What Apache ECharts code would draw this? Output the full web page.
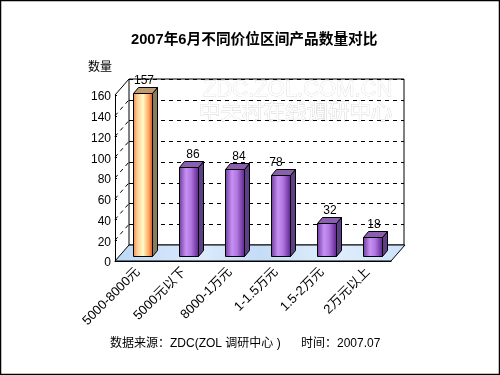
<!DOCTYPE html>
<html>
<head>
<meta charset="utf-8">
<style>html,body{margin:0;padding:0;background:#fff}#main{width:500px;height:375px}</style>
<script src="https://cdn.jsdelivr.net/npm/echarts@6/dist/echarts.min.js"></script>
</head>
<body>
<div id="main"></div>
<script>
var cjk = '"Liberation Sans","Noto Sans CJK SC",sans-serif';
var categories = ["5000-8000元", "5000元以下", "8000-1万元", "1-1.5万元", "1.5-2万元", "2万元以上"];
var counts = [157, 86, 84, 78, 32, 18];
var yTicks = [20, 40, 60, 80, 100, 120, 140, 160];

// depth of the box and of one bar, in px
var boxDx = 14, boxDy = 16;
var barDx = 5, barDy = 6, barW = 19;
// the value labels are not centred evenly in the original
var labelNudge = [1, 4, 4, -5, 3, 1];

function vGrad(stops) {
  return { type: "linear", x: 0, y: 0, x2: 1, y2: 0, colorStops: stops };
}
var orangeFront = vGrad([
  { offset: 0, color: "#e8844a" }, { offset: 0.2, color: "#ffc890" },
  { offset: 0.5, color: "#fffcc8" }, { offset: 0.8, color: "#ffa05a" }, { offset: 1, color: "#cc5020" }
]);
var purpleFront = vGrad([
  { offset: 0, color: "#6a3a98" }, { offset: 0.35, color: "#c890f4" },
  { offset: 0.6, color: "#b078e0" }, { offset: 1, color: "#5a1f88" }
]);

function renderFloor(params) {
  var c = params.coordSys;
  var b = c.y + c.height;
  return {
    type: "polygon",
    shape: { points: [[c.x, b], [c.x + c.width, b], [c.x + c.width + boxDx, b - boxDy], [c.x + boxDx, b - boxDy]] },
    style: {
      fill: { type: "linear", x: 0, y: 1, x2: 1, y2: 0, colorStops: [
        { offset: 0, color: "#bcd8f6" }, { offset: 0.3, color: "#dceafc" }, { offset: 0.5, color: "#c4dcf6" },
        { offset: 0.75, color: "#e0eefc" }, { offset: 1, color: "#cce2f8" }
      ] },
      stroke: "#000", lineWidth: 1
    }
  };
}

function renderWallTick(params, api) {
  var c = params.coordSys;
  var p = api.coord([0, api.value(1)]);
  var top = api.value(1) === 160;
  return {
    type: "line",
    shape: { x1: c.x, y1: p[1], x2: c.x + boxDx, y2: p[1] - boxDy },
    style: { stroke: "#000", lineWidth: 1, lineDash: top ? null : [4, 4] }
  };
}

function renderBar(params, api) {
  var top = api.coord([api.value(0), api.value(1)]);
  var base = api.coord([api.value(0), 0]);
  var first = params.dataIndex === 0;
  var l = Math.round(top[0] + 4 - barW / 2) + 0.5;
  var r = l + barW;
  var t = Math.round(top[1] - 5) + 0.5;
  var b = Math.round(base[1] - 5) + 0.5;
  var edge = { stroke: "#000", lineWidth: 1 };
  return {
    type: "group",
    children: [
      { type: "polygon", shape: { points: [[r, t], [r + barDx, t - barDy], [r + barDx, b - barDy], [r, b]] },
        style: Object.assign({ fill: first ? "#8a7c5c" : "#5c3f84" }, edge) },
      { type: "polygon", shape: { points: [[l, t], [l + barDx, t - barDy], [r + barDx, t - barDy], [r, t]] },
        style: Object.assign({ fill: first ? "#c09a70" : "#8a5fae" }, edge) },
      { type: "rect", shape: { x: l, y: t, width: barW, height: b - t },
        style: Object.assign({ fill: first ? orangeFront : purpleFront }, edge) },
      { type: "text", style: { text: String(api.value(1)), x: (l + r) / 2 + labelNudge[params.dataIndex], y: t - barDy - 7,
          align: "center", verticalAlign: "middle", font: "12px " + cjk, fill: "#000" } }
    ]
  };
}

var myChart = echarts.init(document.getElementById("main"));
var option = {
  animation: false,
  backgroundColor: "#fff",
  title: {
    text: "2007年6月不同价位区间产品数量对比",
    left: 126, top: 28,
    textStyle: { fontSize: 14.7, fontWeight: "bold", color: "#000", fontFamily: cjk }
  },
  grid: [
    { left: 115, top: 95, width: 276, height: 166 },
    { left: 129, top: 79, width: 275, height: 166, show: true, borderColor: "#000", borderWidth: 1, backgroundColor: "transparent" }
  ],
  xAxis: [
    {
      type: "category", data: categories, gridIndex: 0,
      axisLine: { lineStyle: { color: "#000" } },
      axisTick: { inside: true, length: 3, lineStyle: { color: "#000" } },
      axisLabel: { rotate: 45, margin: 9, interval: 0, fontSize: 13, color: "#000", fontFamily: cjk }
    },
    { type: "category", data: categories, gridIndex: 1, axisLine: { show: false }, axisTick: { show: false }, axisLabel: { show: false } }
  ],
  yAxis: [
    {
      type: "value", gridIndex: 0, min: 0, max: 160, interval: 20,
      name: "数量", nameLocation: "end", nameGap: 21,
      nameTextStyle: { color: "#000", fontSize: 12, fontFamily: cjk, align: "right", padding: [0, 3, 0, 0] },
      splitLine: { show: false },
      axisLine: { show: true, lineStyle: { color: "#000" } },
      axisTick: { show: true, inside: true, length: 2, lineStyle: { color: "#000" } },
      axisLabel: { margin: 4, fontSize: 12, color: "#000", fontFamily: cjk, verticalAlign: "top", lineHeight: 4 }
    },
    {
      type: "value", gridIndex: 1, min: 0, max: 160, interval: 20,
      axisLine: { show: false }, axisTick: { show: false }, axisLabel: { show: false },
      splitLine: { show: true, lineStyle: { color: "#000", type: [4, 4], width: 1 } }
    }
  ],
  series: [
    { type: "custom", xAxisIndex: 0, yAxisIndex: 0, z: 2, renderItem: renderWallTick, silent: true,
      data: yTicks.map(function (v) { return [0, v]; }) },
    { type: "custom", xAxisIndex: 0, yAxisIndex: 0, z: 3, renderItem: renderFloor, silent: true, data: [[0, 0]] },
    { type: "custom", xAxisIndex: 0, yAxisIndex: 0, z: 4, renderItem: renderBar, silent: true,
      data: counts.map(function (v, i) { return [i, v]; }), encode: { x: 0, y: 1 } }
  ],
  graphic: [
    { type: "rect", z: 100, silent: true, shape: { x: 0.5, y: 0.5, width: 499, height: 374 }, style: { fill: "none", stroke: "#000", lineWidth: 1.5 } },
    { type: "text", z: -1, silent: true, x: 203, y: 79, style: { text: "ZDC.ZOL.COM.CN", font: '22px "Liberation Sans",sans-serif', fill: "#fff", stroke: "#dcdcdc", lineWidth: 0.8 } },
    { type: "text", z: -1, silent: true, x: 199, y: 100, style: { text: "中关村在线调研中心", font: '21.5px "Noto Sans CJK SC",sans-serif', fill: "#fff", stroke: "#d4d4d4", lineWidth: 0.8 } },
    { type: "text", x: 110, y: 338, style: { text: "数据来源：ZDC(ZOL 调研中心 )", font: "12px " + cjk, fill: "#000" } },
    { type: "text", x: 301, y: 338, style: { text: "时间：2007.07", font: "12px " + cjk, fill: "#000" } }
  ]
};
option && myChart.setOption(option);
</script>
</body>
</html>
